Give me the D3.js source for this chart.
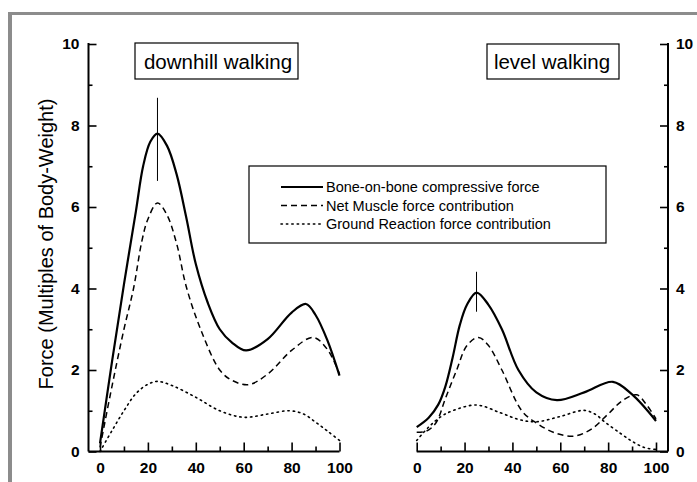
<!DOCTYPE html>
<html>
<head>
<meta charset="utf-8">
<script src="https://cdn.jsdelivr.net/npm/d3@7"></script>
<style>
  body { margin: 0; background: #fff; }
  text { font-family: "Liberation Sans", Arial, sans-serif; }
</style>
</head>
<body>
<div id="chart-area"></div>
<script>
// percent of gait cycle vs force in multiples of body weight

// downhill walking
const downhillBoneX = [0, 5, 10, 15, 18, 21, 24, 28, 32, 36, 40, 45, 50, 55, 61, 70, 80, 86, 90, 95, 100];
const downhillBone  = [0.2, 2.2, 4.1, 5.9, 7.0, 7.6, 7.8, 7.5, 6.8, 5.75, 4.6, 3.65, 3.0, 2.68, 2.48, 2.76, 3.41, 3.62, 3.35, 2.72, 1.86];
const downhillMuscleX = [0, 5, 10, 14, 17.5, 20, 24, 28, 32, 36, 42, 50, 55, 62, 70, 80, 89, 95, 100];
const downhillMuscle  = [0.1, 1.6, 3.0, 4.0, 5.17, 5.7, 6.1, 5.8, 5.1, 4.05, 3.0, 2.0, 1.75, 1.64, 1.9, 2.48, 2.8, 2.5, 1.9];
const downhillGroundX = [0, 5, 10, 15, 20, 24, 30, 40, 50, 60, 70, 79, 85, 90, 95, 100];
const downhillGround  = [0, 0.51, 1.0, 1.42, 1.65, 1.72, 1.62, 1.33, 1.0, 0.84, 0.92, 1.0, 0.92, 0.72, 0.5, 0.27];

// level walking
const levelBoneX = [0, 5, 9, 12, 15, 18, 21, 25, 30, 35.6, 42.5, 50, 58.6, 70, 82, 90, 100];
const levelBone  = [0.6, 0.83, 1.15, 1.6, 2.3, 3.1, 3.6, 3.9, 3.6, 3.0, 2.0, 1.45, 1.26, 1.45, 1.71, 1.4, 0.75];
const levelMuscleX = [0, 4, 8, 12, 16.7, 21, 25.8, 30, 35.6, 43.9, 50, 58, 66, 73, 80, 86, 92, 96, 100];
const levelMuscle  = [0.47, 0.5, 0.7, 1.3, 2.0, 2.6, 2.8, 2.6, 2.0, 1.0, 0.7, 0.45, 0.38, 0.55, 0.92, 1.25, 1.39, 1.15, 0.8];
const levelGroundX = [0, 5, 10, 15, 25, 35, 43, 50, 60, 70, 75, 78, 85, 90, 95, 100];
const levelGround  = [0.27, 0.6, 0.85, 1.0, 1.14, 0.95, 0.78, 0.73, 0.86, 1.01, 0.9, 0.75, 0.45, 0.25, 0.1, 0.05];

// peak variation bars [x, low, high]
const downhillBar = [24, 6.64, 8.68];
const levelBar = [25, 3.43, 4.41];

const xTicks = [0, 20, 40, 60, 80, 100];
const xMinor = [10, 30, 50, 70, 90];
const yTicks = [0, 2, 4, 6, 8, 10];
const yMinor = [1, 3, 5, 7, 9];

const legendLabels = ["Bone-on-bone compressive force", "Net Muscle force contribution", "Ground Reaction force contribution"];
const panelTitles = ["downhill walking", "level walking"];

const width = 697, height = 482;

const svg = d3.select("#chart-area")
    .append("svg")
    .attr("width", width)
    .attr("height", height);

// frame
svg.append("rect").attr("x", 8).attr("y", 12).attr("width", width - 8).attr("height", 3).attr("fill", "#8c8c8c");
svg.append("rect").attr("x", 8).attr("y", 12).attr("width", 4).attr("height", height - 12).attr("fill", "#8c8c8c");

const y = d3.scaleLinear().domain([0, 10]).range([451.5, 44]);
const xLeft = d3.scaleLinear().domain([0, 100]).range([100, 339.5]);
const xRight = d3.scaleLinear().domain([0, 100]).range([416.7, 656]);

const styles = [
    { width: 2.2, dash: null },
    { width: 1.5, dash: "6,4" },
    { width: 1.6, dash: "1.4,4" }
];

function styleAxis(g) {
    g.select(".domain").remove();
    g.selectAll("line").attr("stroke", "#000").attr("stroke-width", 1.6);
    g.selectAll("text")
        .attr("font-size", 15.5)
        .attr("font-weight", "bold")
        .attr("fill", "#000");
}

// y axes
svg.append("g")
    .attr("transform", "translate(88.5,0)")
    .call(d3.axisLeft(y).tickValues(yTicks).tickSize(-8).tickPadding(9).tickFormat(d3.format("d")))
    .call(styleAxis);
svg.append("g")
    .attr("transform", "translate(88.5,0)")
    .call(d3.axisLeft(y).tickValues(yMinor).tickSize(-4).tickFormat(""))
    .call(styleAxis);
svg.append("g")
    .attr("transform", "translate(668,0)")
    .call(d3.axisRight(y).tickValues(yTicks).tickSize(-8).tickPadding(8).tickFormat(d3.format("d")))
    .call(styleAxis);
svg.append("g")
    .attr("transform", "translate(668,0)")
    .call(d3.axisRight(y).tickValues(yMinor).tickSize(-4).tickFormat(""))
    .call(styleAxis);

// x axes
[xLeft, xRight].forEach(x => {
    svg.append("g")
        .attr("transform", `translate(0,${y(0)})`)
        .call(d3.axisBottom(x).tickValues(xTicks).tickSize(-9).tickPadding(10))
        .call(styleAxis);
    svg.append("g")
        .attr("transform", `translate(0,${y(0)})`)
        .call(d3.axisBottom(x).tickValues(xMinor).tickSize(-5).tickFormat(""))
        .call(styleAxis);
});

// axis lines
const axisLines = [
    [88.5, y(10) - 1, 88.5, y(0)],
    [88.5, y(0), xLeft(100), y(0)],
    [668, y(10) - 1, 668, y(0)],
    [xRight(0), y(0), 668, y(0)]
];
svg.append("g")
    .selectAll("line")
    .data(axisLines)
    .join("line")
    .attr("x1", d => d[0]).attr("y1", d => d[1])
    .attr("x2", d => d[2]).attr("y2", d => d[3])
    .attr("stroke", "#000")
    .attr("stroke-width", 2);

// y title
svg.append("text")
    .attr("transform", "translate(53,244) rotate(-90)")
    .attr("text-anchor", "middle")
    .attr("font-size", 20)
    .text("Force (Multiples of Body-Weight)");

// curves
const panels = [
    { x: xLeft, series: [[downhillBoneX, downhillBone], [downhillMuscleX, downhillMuscle], [downhillGroundX, downhillGround]], bar: downhillBar },
    { x: xRight, series: [[levelBoneX, levelBone], [levelMuscleX, levelMuscle], [levelGroundX, levelGround]], bar: levelBar }
];

panels.forEach(p => {
    const line = d3.line()
        .x(d => p.x(d[0]))
        .y(d => y(d[1]))
        .curve(d3.curveCatmullRom.alpha(0.5));

    svg.append("g")
        .selectAll("path")
        .data(p.series)
        .join("path")
        .attr("d", s => line(d3.zip(s[0], s[1])))
        .attr("fill", "none")
        .attr("stroke", "#000")
        .attr("stroke-width", (s, i) => styles[i].width)
        .attr("stroke-dasharray", (s, i) => styles[i].dash)
        .attr("stroke-linecap", (s, i) => i == 2 ? "round" : "butt");

    svg.append("line")
        .attr("x1", p.x(p.bar[0])).attr("x2", p.x(p.bar[0]))
        .attr("y1", y(p.bar[1])).attr("y2", y(p.bar[2]))
        .attr("stroke", "#000")
        .attr("stroke-width", 1);
});

// panel titles
const titleBoxes = [
    { x: 135, y: 43, w: 163, h: 36, cx: 218 },
    { x: 487, y: 44, w: 132, h: 35, cx: 552 }
];
titleBoxes.forEach((b, i) => {
    svg.append("rect")
        .attr("x", b.x).attr("y", b.y).attr("width", b.w).attr("height", b.h)
        .attr("fill", "#fff").attr("stroke", "#000").attr("stroke-width", 1.2);
    svg.append("text")
        .attr("x", b.cx).attr("y", 68.5)
        .attr("text-anchor", "middle")
        .attr("font-size", 20.5)
        .text(panelTitles[i]);
});

// legend
const legend = svg.append("g");
legend.append("rect")
    .attr("x", 249).attr("y", 166).attr("width", 357).attr("height", 77)
    .attr("fill", "#fff").attr("stroke", "#000").attr("stroke-width", 1.2);

const rows = legend.selectAll("g")
    .data(legendLabels)
    .join("g")
    .attr("transform", (d, i) => `translate(0,${187 + i * 18.5})`);
rows.append("line")
    .attr("x1", 281).attr("x2", 323)
    .attr("stroke", "#000")
    .attr("stroke-width", (d, i) => styles[i].width)
    .attr("stroke-dasharray", (d, i) => styles[i].dash)
    .attr("stroke-linecap", (d, i) => i == 2 ? "round" : "butt");
rows.append("text")
    .attr("x", 326).attr("dy", "0.36em")
    .attr("font-size", 14.5)
    .text(d => d);
</script>
</body>
</html>
